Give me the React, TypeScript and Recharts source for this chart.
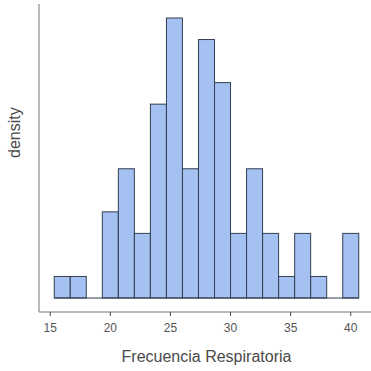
import { ComposedChart, Bar, XAxis, YAxis, ReferenceLine } from 'recharts';

// bins of width 4/3 starting at 15.333
const binStarts = [
  15.333, 16.667, 18, 19.333, 20.667, 22, 23.333, 24.667, 26, 27.333,
  28.667, 30, 31.333, 32.667, 34, 35.333, 36.667, 38, 39.333,
];
const counts = [1, 1, 0, 4, 6, 3, 9, 13, 6, 12, 10, 3, 6, 3, 1, 3, 1, 0, 3];
const xTicks = [15, 20, 25, 30, 35, 40];

const binWidth = 4 / 3;
const total = counts.reduce((a, b) => a + b, 0);

const data = binStarts.map((start, i) => ({
  mid: start + binWidth / 2,
  density: counts[i] / (total * binWidth),
}));

const xMin = binStarts[0];
const xMax = binStarts[binStarts.length - 1] + binWidth;
const xPad = (xMax - xMin) * 0.05;
const maxD = Math.max(...data.map((d) => d.density));

const CHART_W = 371;
const CHART_H = 371;
const LEFT = 39;

const HistBar = (props: any) => {
  const { x, y, width, height } = props;
  if (!height || Math.abs(height) < 0.5) return null;
  return (
    <rect x={x} y={y} width={width} height={height} fill="#a4c1f1" stroke="#333f50" strokeWidth={1} />
  );
};

export default function App() {
  return (
    <div style={{ position: 'absolute', left: 0, top: 0, overflow: 'hidden', width: CHART_W, height: CHART_H, fontFamily: '"Liberation Sans", Arial, sans-serif' }}>
      <ComposedChart
        width={CHART_W}
        height={CHART_H}
        data={data}
        margin={{ top: 4, right: -3, bottom: 0, left: 0 }}
        barCategoryGap={0}
        barGap={0}
      >
        <XAxis
          dataKey="mid"
          type="number"
          domain={[xMin - xPad, xMax + xPad]}
          allowDataOverflow
          ticks={xTicks}
          height={59}
          axisLine={{ stroke: '#777777' }}
          tickLine={{ stroke: '#444444' }}
          tickSize={4}
          tickMargin={7}
          tick={{ fill: '#555555', fontSize: 12 }}
          label={{ value: 'Frecuencia Respiratoria', position: 'insideBottom', offset: 9, fill: '#4a4a4a', fontSize: 16 }}
        />
        <YAxis
          type="number"
          domain={[-0.05 * maxD, 1.05 * maxD]}
          allowDataOverflow
          width={LEFT}
          tick={false}
          tickLine={false}
          axisLine={{ stroke: '#777777' }}
          label={{ value: 'density', angle: -90, position: 'insideLeft', offset: 14, fill: '#4a4a4a', fontSize: 16 }}
        />
        {/* baseline under the bins (shows through the empty ones) */}
        <ReferenceLine segment={[{ x: xMin, y: 0 }, { x: xMax, y: 0 }]} stroke="#333f50" strokeWidth={1} />
        <Bar dataKey="density" shape={HistBar} isAnimationActive={false} />
      </ComposedChart>
    </div>
  );
}
